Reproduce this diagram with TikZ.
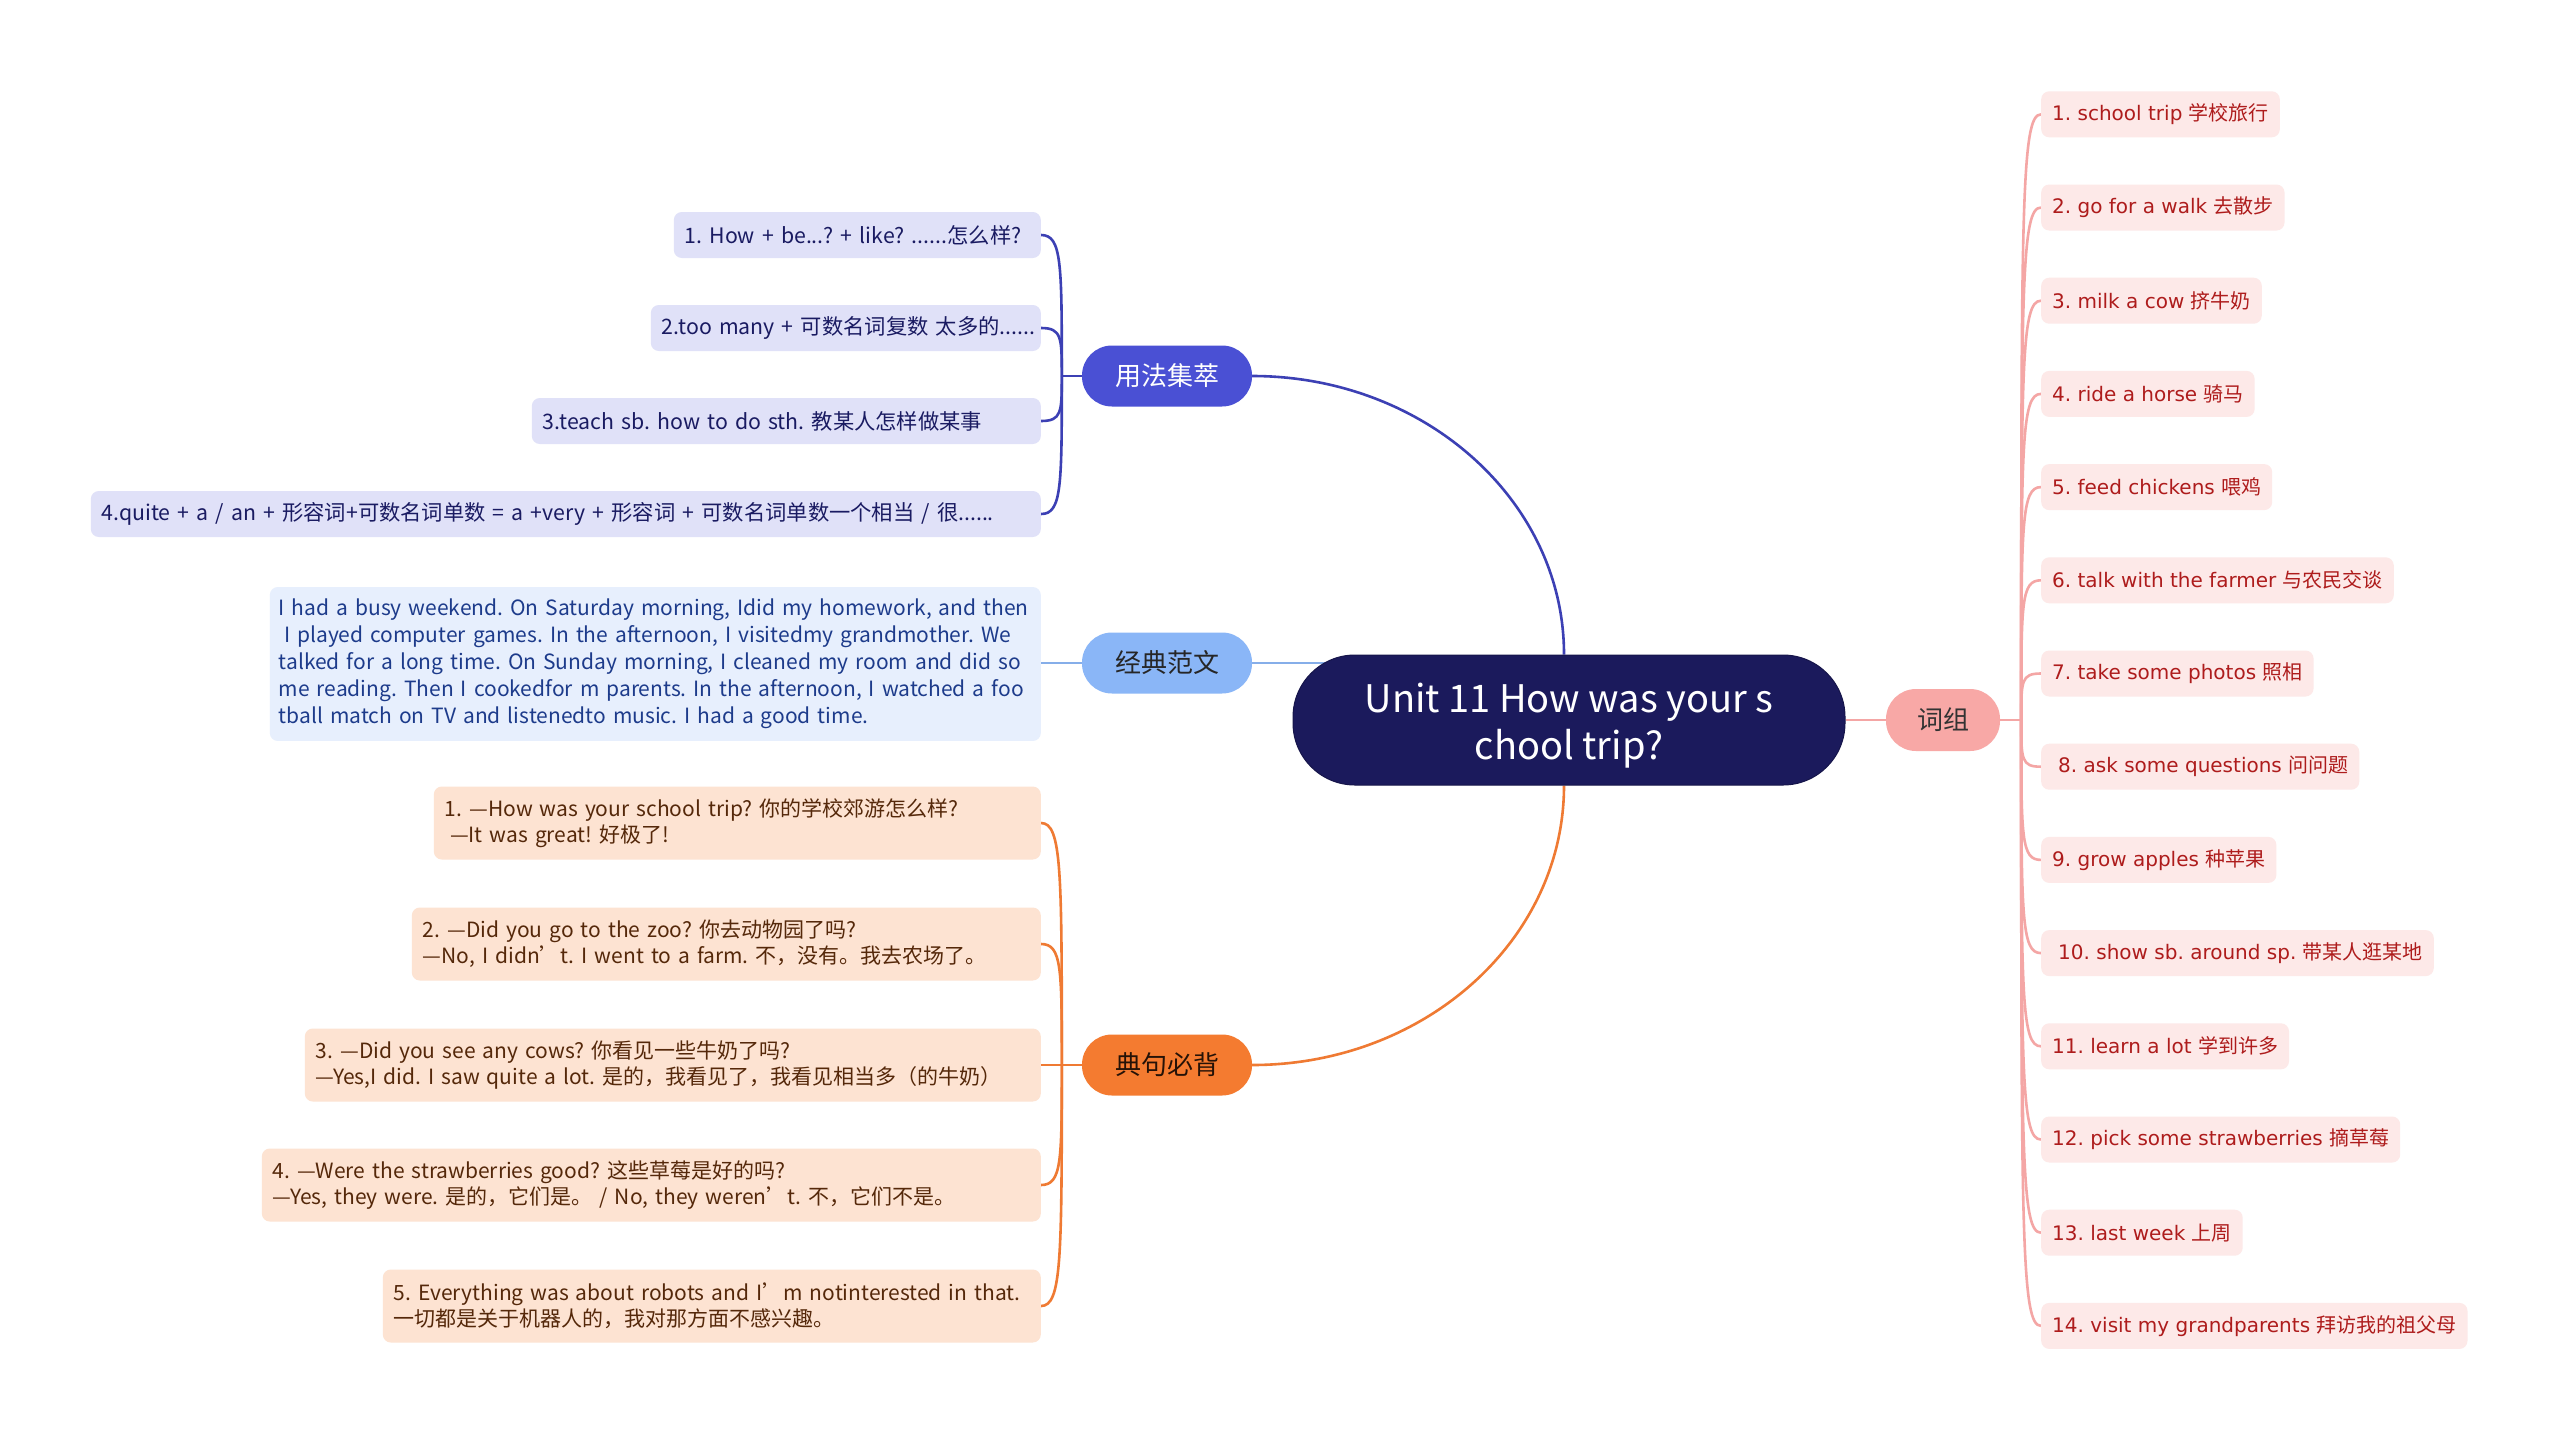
\documentclass[tikz,border=0pt]{standalone}
\usepackage{fontspec}
\setmainfont{Noto Sans CJK SC}
\newfontfamily\dvs{DejaVu Sans}
\usetikzlibrary{backgrounds,calc}
\definecolor{cnavy}{HTML}{1B1A5C}
\definecolor{yfill}{HTML}{4A50D4}
\definecolor{yline}{HTML}{3C40B4}
\definecolor{yleaf}{HTML}{E0E1F8}
\definecolor{ytext}{HTML}{1A1B62}
\definecolor{jfill}{HTML}{8AB6F7}
\definecolor{jline}{HTML}{86AEE9}
\definecolor{jleaf}{HTML}{E7EFFD}
\definecolor{jtext}{HTML}{1D3B8B}
\definecolor{dfill}{HTML}{F47B30}
\definecolor{dline}{HTML}{EF7A33}
\definecolor{dleaf}{HTML}{FDE3D2}
\definecolor{dtext}{HTML}{55280A}
\definecolor{zfill}{HTML}{F8A8A6}
\definecolor{zline}{HTML}{F4A6A5}
\definecolor{zleaf}{HTML}{FDE9E8}
\definecolor{ztext}{HTML}{AE1C1C}
\newcommand\lm[1]{\mbox{#1}}
\begin{document}
\frenchspacing
\begin{tikzpicture}[x=1pt,y=-1pt,
  central/.style={fill=cnavy,draw=cnavy!80!black,line width=1pt,text=white,rounded corners=62pt,
    minimum width=552pt,minimum height=130pt,align=center,inner sep=0pt,
    font=\fontsize{38}{47}\selectfont},
  branch/.style={rounded corners=30pt,minimum width=170pt,minimum height=61pt,inner sep=0pt,
    font=\fontsize{26}{30}\selectfont},
  leaf/.style={rounded corners=8pt,minimum height=46pt,inner xsep=11pt,inner ysep=9pt,align=left,
    font=\fontsize{21.3}{26.5}\selectfont},
  yleafs/.style={leaf,fill=yleaf,text=ytext,anchor=east},
  jleafs/.style={leaf,fill=jleaf,text=jtext,anchor=east,font=\fontsize{21}{27}\selectfont},
  dleafs/.style={leaf,fill=dleaf,text=dtext,anchor=east,minimum height=73pt,font=\fontsize{21}{26}\selectfont},
  zleafs/.style={leaf,fill=zleaf,text=ztext,anchor=west,font=\fontsize{20}{25}\selectfont},
  conn/.style={line width=2.6pt},
]
\begin{scope}[on background layer]
\fill[white] (0,0) rectangle (2560,1441);
\end{scope}
\useasboundingbox (0,0) rectangle (2560,1441);

% central and branches
\node[central] (c) at (1569,720) {\raisebox{-6.5pt}[\height][\depth]{\begin{tabular}{@{}c@{}}Unit 11 How was your s\\chool trip?\end{tabular}}};
\node[branch,fill=yfill,text=white] (yf) at (1167,376) {用法集萃};
\node[branch,fill=jfill,text=black!85] (jf) at (1167,663) {经典范文};
\node[branch,fill=dfill,text=black!85!dfill] (df) at (1167,1065) {典句必背};
\node[branch,fill=zfill,text=black!80,minimum width=114pt,minimum height=62pt] (cz) at (1943,720) {词组};

% 用法集萃 leaves
\node[yleafs,text width=345pt] (y1) at (1041,235) {\lm{1. How + be...? + like? ......怎么样?}};
\node[yleafs,text width=368pt] (y2) at (1041,328) {\lm{2.too many + 可数名词复数 太多的......}};
\node[yleafs,text width=487pt] (y3) at (1041,421) {\lm{3.teach sb. how to do sth. 教某人怎样做某事}};
\node[yleafs,text width=928pt] (y4) at (1041,514) {\lm{4.quite + a / an + 形容词+可数名词单数 = a +very + 形容词 + 可数名词单数一个相当 / 很......}};

% 经典范文 leaf
\node[jleafs,inner ysep=12pt,inner xsep=9pt,text width=753pt] (j1) at (1041,664) {\lm{I had a busy weekend. On Saturday morning, Idid my homework, and then}\\\lm{\hspace*{0.25em}I played computer games. In the afternoon, I visitedmy grandmother. We}\\\lm{talked for a long time. On Sunday morning, I cleaned my room and did so}\\\lm{me reading. Then I cookedfor m parents. In the afternoon, I watched a foo}\\\lm{tball match on TV and listenedto music. I had a good time.}};

% 典句必背 leaves
\node[dleafs,text width=585pt] (d1) at (1041,823) {\lm{1. —How was your school trip? 你的学校郊游怎么样?}\\\lm{\hspace*{0.25em}—It was great! 好极了!}};
\node[dleafs,text width=607pt] (d2) at (1041,944) {\lm{2. —Did you go to the zoo? 你去动物园了吗?}\\\lm{—No, I didn’t. I went to a farm. 不，没有。我去农场了。}};
\node[dleafs,text width=714pt] (d3) at (1041,1065) {\lm{3. —Did you see any cows? 你看见一些牛奶了吗?}\\\lm{—Yes,I did. I saw quite a lot. 是的，我看见了，我看见相当多（的牛奶）}};
\node[dleafs,text width=757pt] (d4) at (1041,1185) {\lm{4. —Were the strawberries good? 这些草莓是好的吗?}\\\lm{—Yes, they were. 是的，它们是。 / No, they weren’t. 不，它们不是。}};
\node[dleafs,text width=636pt] (d5) at (1041,1306) {\lm{5. Everything was about robots and I’m notinterested in that.}\\\lm{一切都是关于机器人的，我对那方面不感兴趣。}};

% 词组 leaves
\node[zleafs] (z1) at (2041,114.3) {{\dvs 1. school trip }学校旅行};
\node[zleafs] (z2) at (2041,207.5) {{\dvs 2. go for a walk }去散步};
\node[zleafs] (z3) at (2041,300.7) {{\dvs 3. milk a cow }挤牛奶};
\node[zleafs] (z4) at (2041,393.9) {{\dvs 4. ride a horse }骑马};
\node[zleafs] (z5) at (2041,487.1) {{\dvs 5. feed chickens }喂鸡};
\node[zleafs] (z6) at (2041,580.3) {{\dvs 6. talk with the farmer }与农民交谈};
\node[zleafs] (z7) at (2041,673.5) {{\dvs 7. take some photos }照相};
\node[zleafs] (z8) at (2041,766.7) {\hspace*{0.3em}{\dvs 8. ask some questions }问问题};
\node[zleafs] (z9) at (2041,859.9) {{\dvs 9. grow apples }种苹果};
\node[zleafs] (z10) at (2041,953.1) {\hspace*{0.3em}{\dvs 10. show sb. around sp. }带某人逛某地};
\node[zleafs] (z11) at (2041,1046.3) {{\dvs 11. learn a lot }学到许多};
\node[zleafs] (z12) at (2041,1139.5) {{\dvs 12. pick some strawberries }摘草莓};
\node[zleafs] (z13) at (2041,1232.7) {{\dvs 13. last week }上周};
\node[zleafs] (z14) at (2041,1325.9) {{\dvs 14. visit my grandparents }拜访我的祖父母};

\begin{scope}[on background layer]
% main connectors
\draw[conn,yline] ([xshift=-5pt]c.north) .. controls ([xshift=-5pt]$(c.north)+(0,-154)$) and ($(yf.east)+(172,0)$) .. (yf.east);
\draw[conn,dline] ([xshift=-5pt]c.south) .. controls ([xshift=-5pt]$(c.south)+(0,155)$) and ($(df.east)+(172,0)$) .. (df.east);
\draw[conn,jline] (jf.east) -- ($(jf.east -| c.west)+(60,0)$);
\draw[conn,zline] (c.east) -- (cz.west);

% 用法集萃 tree
\coordinate (yt) at ($(yf.west)+(-20,0)$);
\draw[conn,yline] (yf.west) -- (yt);
\foreach \n in {y1,y2,y3,y4}{
  \draw[conn,yline] (yt) .. controls ($(yt)!0.8!(yt |- \n.east)$) and (yt |- \n.east) .. (\n.east);
}
% 经典范文 leaf
\draw[conn,jline] (jf.west) -- (jf.west -| j1.east);
% 典句必背 tree
\coordinate (dt) at ($(df.west)+(-20,0)$);
\draw[conn,dline] (df.west) -- (dt);
\foreach \n in {d1,d2,d3,d4,d5}{
  \draw[conn,dline] (dt) .. controls ($(dt)!0.8!(dt |- \n.east)$) and (dt |- \n.east) .. (\n.east);
}
% 词组 tree
\coordinate (zt) at ($(cz.east)+(21,0)$);
\draw[conn,zline] (cz.east) -- (zt);
\foreach \n in {z1,z2,z3,z4,z5,z6,z7,z8,z9,z10,z11,z12,z13,z14}{
  \draw[conn,zline] (zt) .. controls ($(zt)!0.85!(zt |- \n.west)$) and (zt |- \n.west) .. (\n.west);
}
\end{scope}
\end{tikzpicture}
\end{document}
